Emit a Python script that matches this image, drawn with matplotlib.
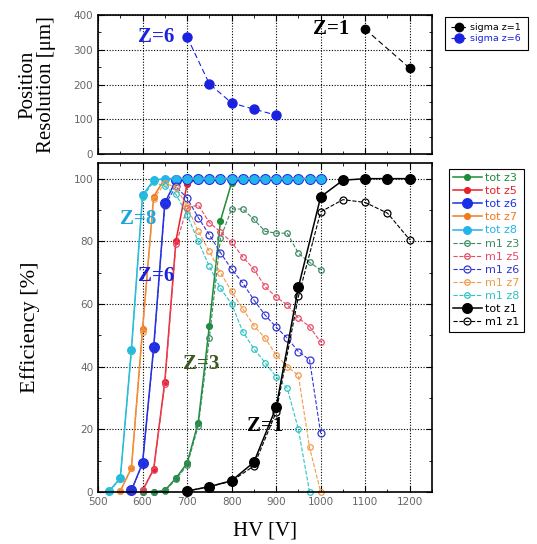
import matplotlib
matplotlib.use("agg")
import matplotlib.pyplot as plt
from matplotlib.ticker import MultipleLocator

# ---- position resolution (top panel) ----
HV_SIG_Z1 = [1100, 1200]
SIG_Z1 = [359, 247]
HV_SIG_Z6 = [700, 750, 800, 850, 900]
SIG_Z6 = [337, 202, 147, 129, 112]

# ---- efficiency (bottom panel) ----
HV_Z3 = [600, 625, 650, 675, 700, 725, 750, 775, 800, 825, 850, 875, 900, 925, 950, 975, 1000]
TOT_Z3 = [0, 0, 0.5, 4.4, 9.2, 22.1, 53, 86.6, 98.7, 100, 100, 100, 100, 100, 100, 100, 100]
M1_Z3 = [0, 0, 0.3, 4, 8.5, 21, 49, 81, 90.3, 90.3, 87, 83.2, 82.6, 82.6, 76.2, 73.3, 70.9]

HV_Z5 = [600, 625, 650, 675, 700, 725, 750, 775, 800, 825, 850, 875, 900, 925, 950, 975, 1000]
TOT_Z5 = [0.5, 7.3, 35.2, 80.2, 98.3, 100, 100, 100, 100, 100, 100, 100, 100, 100, 100, 100, 100]
M1_Z5 = [0.5, 7, 34.5, 79, 90.6, 91.6, 86, 83, 79.7, 75, 71.1, 65.6, 62.2, 59.7, 55.5, 52.8, 47.8]

HV_Z6 = [575, 600, 625, 650, 675, 700, 725, 750, 775, 800, 825, 850, 875, 900, 925, 950, 975, 1000]
TOT_Z6 = [0.5, 9.2, 46.2, 92.2, 99.5, 100, 100, 100, 100, 100, 100, 100, 100, 100, 100, 100, 100, 100]
M1_Z6 = [0.5, 9, 45.5, 91.5, 97.5, 93.8, 87.6, 82.1, 76.4, 71.1, 66.7, 61.3, 56.5, 52.6, 49.1, 44.8, 42.2, 18.7]

HV_Z7 = [550, 575, 600, 625, 650, 675, 700, 725, 750, 775, 800, 825, 850, 875, 900, 925, 950, 975, 1000]
TOT_Z7 = [0.3, 7.6, 52, 94.3, 100, 100, 100, 100, 100, 100, 100, 100, 100, 100, 100, 100, 100, 100, 100]
M1_Z7 = [0.3, 7.5, 51, 93.5, 98.5, 97.3, 91.2, 83.2, 76.8, 70, 64, 58.5, 53.1, 49.1, 43.8, 40, 37.2, 14.2, 0]

HV_Z8 = [525, 550, 575, 600, 625, 650, 675, 700, 725, 750, 775, 800, 825, 850, 875, 900, 925, 950, 975, 1000]
TOT_Z8 = [0.3, 4.4, 45.4, 94.7, 99.5, 100, 100, 100, 100, 100, 100, 100, 100, 100, 100, 100, 100, 100, 100, 100]
M1_Z8 = [0.3, 4, 45, 94, 99, 97.5, 95, 88.5, 80, 72, 65, 60, 51.2, 45.7, 41.3, 36.8, 33.1, 20, 0, None]

HV_Z1 = [700, 750, 800, 850, 900, 950, 1000, 1050, 1100, 1150, 1200]
TOT_Z1 = [0.3, 1.7, 3.6, 9.5, 27, 65.4, 94.2, 99.5, 100, 100, 100]
M1_Z1 = [0.3, 1.7, 3.5, 8.3, 25.5, 62.4, 89.4, 93.3, 92.4, 89, 80.5]

SERIF = "Liberation Serif"


def style_axes(ax):
	ax.tick_params(which="both", direction="in", top=True, right=True,
				   labelsize=7.5, labelcolor="#666666")
	ax.tick_params(which="major", length=4)
	ax.tick_params(which="minor", length=2)
	ax.grid(True, which="major", color="black", linestyle=(0, (1, 1.5)), linewidth=0.8)
	for sp in ax.spines.values():
		sp.set_linewidth(1.2)


fig = plt.figure(figsize=(5.37, 5.44), dpi=100)
ax1 = fig.add_axes([0.1825, 0.7169, 0.622, 0.2555])
ax2 = fig.add_axes([0.1825, 0.0956, 0.622, 0.6048])

# top panel
ax1.plot(HV_SIG_Z1, SIG_Z1, color="black", marker="o", markersize=6, linestyle=(0, (5, 3)),
		 linewidth=0.8, label="sigma z=1")
ax1.plot(HV_SIG_Z6, SIG_Z6, color="#1a22e0", marker="o", markersize=6.5, linestyle=(0, (5, 3)),
		 linewidth=0.8, label="sigma z=6")
ax1.set_xlim(500, 1250)
ax1.set_ylim(0, 400)
ax1.xaxis.set_major_locator(MultipleLocator(100))
ax1.xaxis.set_minor_locator(MultipleLocator(50))
ax1.yaxis.set_major_locator(MultipleLocator(100))
ax1.yaxis.set_minor_locator(MultipleLocator(50))
ax1.set_xticklabels([])
style_axes(ax1)
ax1.set_ylabel("Position\nResolution [μm]", fontsize=15, family=SERIF, linespacing=1.0)
ax1.yaxis.set_label_coords(-0.125, 0.5)
ax1.text(630, 337, "Z=6", color="#1a22e0", fontsize=15, fontweight="bold", family=SERIF,
		 ha="center", va="center")
ax1.text(1023, 360, "Z=1", color="black", fontsize=15, fontweight="bold", family=SERIF,
		 ha="center", va="center")
leg1 = ax1.legend(loc="upper left", bbox_to_anchor=(440 / 537, 1 - 12 / 544),
				  bbox_transform=fig.transFigure, fontsize=6.8, handlelength=1.6,
				  borderpad=0.7, labelspacing=0.2, handletextpad=0.4, fancybox=False,
				  edgecolor="black", framealpha=1)
leg1.get_frame().set_linewidth(0.8)
for t, c in zip(leg1.get_texts(), ["black", "#1a22e0"]):
	t.set_color(c)

# bottom panel
series = [
	(HV_Z3, TOT_Z3, "#1e8c3a", "-", "o", 4.2, True, "tot z3"),
	(HV_Z5, TOT_Z5, "#e8202a", "-", "o", 4.2, True, "tot z5"),
	(HV_Z6, TOT_Z6, "#1a2ee8", "-", "o", 7, True, "tot z6"),
	(HV_Z7, TOT_Z7, "#f07a1e", "-", "o", 4.2, True, "tot z7"),
	(HV_Z8, TOT_Z8, "#22b4ea", "-", "o", 5.5, True, "tot z8"),
	(HV_Z3, M1_Z3, "#3d8a62", "--", "o", 4, False, "m1 z3"),
	(HV_Z5, M1_Z5, "#e84a66", "--", "o", 4, False, "m1 z5"),
	(HV_Z6, M1_Z6, "#3434d4", "--", "o", 5, False, "m1 z6"),
	(HV_Z7, M1_Z7, "#f29a4a", "--", "o", 4, False, "m1 z7"),
	(HV_Z8, M1_Z8, "#2cc4c4", "--", "o", 4, False, "m1 z8"),
	(HV_Z1, TOT_Z1, "black", "-", "o", 7, True, "tot z1"),
	(HV_Z1, M1_Z1, "black", "--", "o", 5, False, "m1 z1"),
]
for hv, eff, col, ls, mk, ms, filled, lab in series:
	pts = [(h, e) for h, e in zip(hv, eff) if e is not None]
	xs = [p[0] for p in pts]
	ys = [p[1] for p in pts]
	ax2.plot(xs, ys, color=col, linestyle=ls, marker=mk, markersize=ms,
			 linewidth=1.1 if filled else 0.8,
			 markerfacecolor=col if filled else "none",
			 markeredgewidth=0.9, clip_on=False, label=lab)

ax2.set_xlim(500, 1250)
ax2.set_ylim(0, 105)
ax2.xaxis.set_major_locator(MultipleLocator(100))
ax2.xaxis.set_minor_locator(MultipleLocator(50))
ax2.yaxis.set_major_locator(MultipleLocator(20))
ax2.yaxis.set_minor_locator(MultipleLocator(10))
style_axes(ax2)
ax2.set_ylabel("Efficiency [%]", fontsize=16, family=SERIF)
ax2.yaxis.set_label_coords(-0.175, 0.5)
ax2.set_xlabel("HV [V]", fontsize=15, family=SERIF)
ax2.xaxis.set_label_coords(0.5, -0.09)

ax2.text(590, 87, "Z=8", color="#1ea6dc", fontsize=15, fontweight="bold", family=SERIF,
		 ha="center", va="center")
ax2.text(630, 69, "Z=6", color="#1a22e0", fontsize=15, fontweight="bold", family=SERIF,
		 ha="center", va="center")
ax2.text(732, 41, "Z=3", color="#3b5a1e", fontsize=15, fontweight="bold", family=SERIF,
		 ha="center", va="center")
ax2.text(875, 21, "Z=1", color="black", fontsize=15, fontweight="bold", family=SERIF,
		 ha="center", va="center")

leg2 = ax2.legend(loc="upper left", bbox_to_anchor=(443 / 537, 1 - 163 / 544),
				  bbox_transform=fig.transFigure, fontsize=8, handlelength=2.6,
				  borderpad=0.4, labelspacing=0.28, handletextpad=0.3, fancybox=False,
				  edgecolor="black", framealpha=1)
leg2.get_frame().set_linewidth(0.8)
for t, s in zip(leg2.get_texts(), series):
	t.set_color(s[2])

plt.savefig("out.png", dpi=100)
